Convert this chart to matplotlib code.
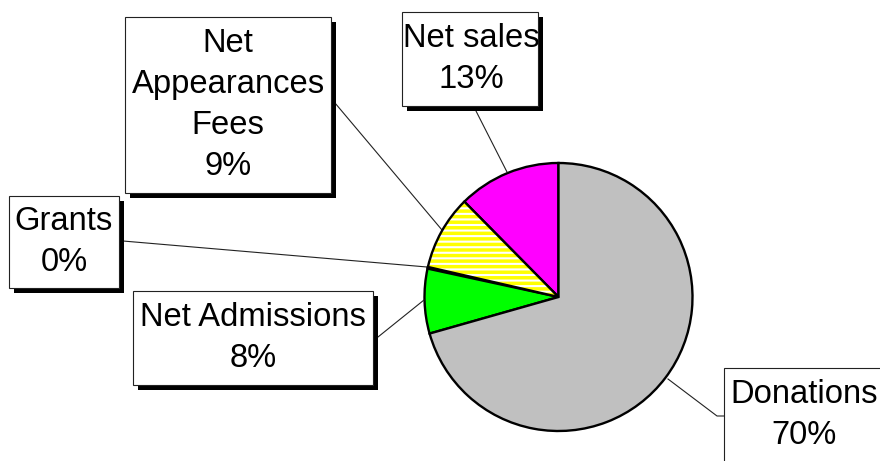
import matplotlib
matplotlib.use("Agg")
import matplotlib.pyplot as plt
from matplotlib.patches import Rectangle, Wedge

# ---- data ----
categories = ["Net sales", "Net\nAppearances\nFees", "Grants", "Net Admissions", "Donations"]
values = [12.4, 9.0, 0.2, 7.8, 70.6]
pct_labels = ["13%", "9%", "0%", "8%", "70%"]
colors = ["#FF00FF", "#FFFF00", "#FFFFFF", "#00FF00", "#C0C0C0"]

W, H = 880, 461
plt.rcParams['hatch.linewidth'] = 1.5

fig = plt.figure(figsize=(W / 100, H / 100), dpi=100)
ax = fig.add_axes([0, 0, 1, 1])


def Y(py):
    return H - py


cx, cy, R = 558.5, Y(297), 134
wedges, _ = ax.pie(values, colors=colors, startangle=90, counterclock=True,
                   center=(cx, cy), radius=R,
                   wedgeprops=dict(edgecolor="black", linewidth=1.7))

# striped appearance fees slice: yellow with white horizontal stripes
w = wedges[1]
w.set_facecolor("none")
w.set_zorder(3)
hw = Wedge(w.center, w.r, w.theta1, w.theta2, facecolor="#FFFF00",
           edgecolor="white", hatch="---", linewidth=0, zorder=2)
ax.add_patch(hw)

ax.set_xlim(0, W)
ax.set_ylim(0, H)
ax.set_aspect("auto")
ax.axis("off")

# label boxes (pixel layout: left, top, right, bottom), text centre
boxes = [
    (402, 12, 538, 106),
    (125, 17, 331, 193),
    (9, 196, 119, 288),
    (133, 291, 373, 385),
    (724, 368, 884, 462),
]
text_centres = [(471, 59), (228, 105), (64, 242), (253, 338), (804, 415)]
# leader lines (pixel points)
leaders = [
    [(476, 111), (507, 172)],
    [(335, 103), (442, 230)],
    [(123, 241), (427, 267)],
    [(378, 337), (424, 300)],
    [(668, 379), (717, 416), (724, 416)],
]

for (l, t, r, b), (tx, ty), cat, pct, pts in zip(boxes, text_centres, categories, pct_labels, leaders):
    ax.add_patch(Rectangle((l + 5, Y(b + 5)), r - l, b - t, facecolor="black",
                           edgecolor="none", zorder=4))
    ax.add_patch(Rectangle((l, Y(b)), r - l, b - t, facecolor="white",
                           edgecolor="#222222", linewidth=0.8, zorder=5))
    ax.text(tx, Y(ty), cat + "\n" + pct, ha="center", va="center",
            fontsize=23.6, family="Liberation Sans", linespacing=1.43, zorder=6)
    xs = [p[0] for p in pts]
    ys = [Y(p[1]) for p in pts]
    ax.plot(xs, ys, color="#222222", linewidth=0.8, zorder=1)

fig.savefig("out.png", dpi=100)
